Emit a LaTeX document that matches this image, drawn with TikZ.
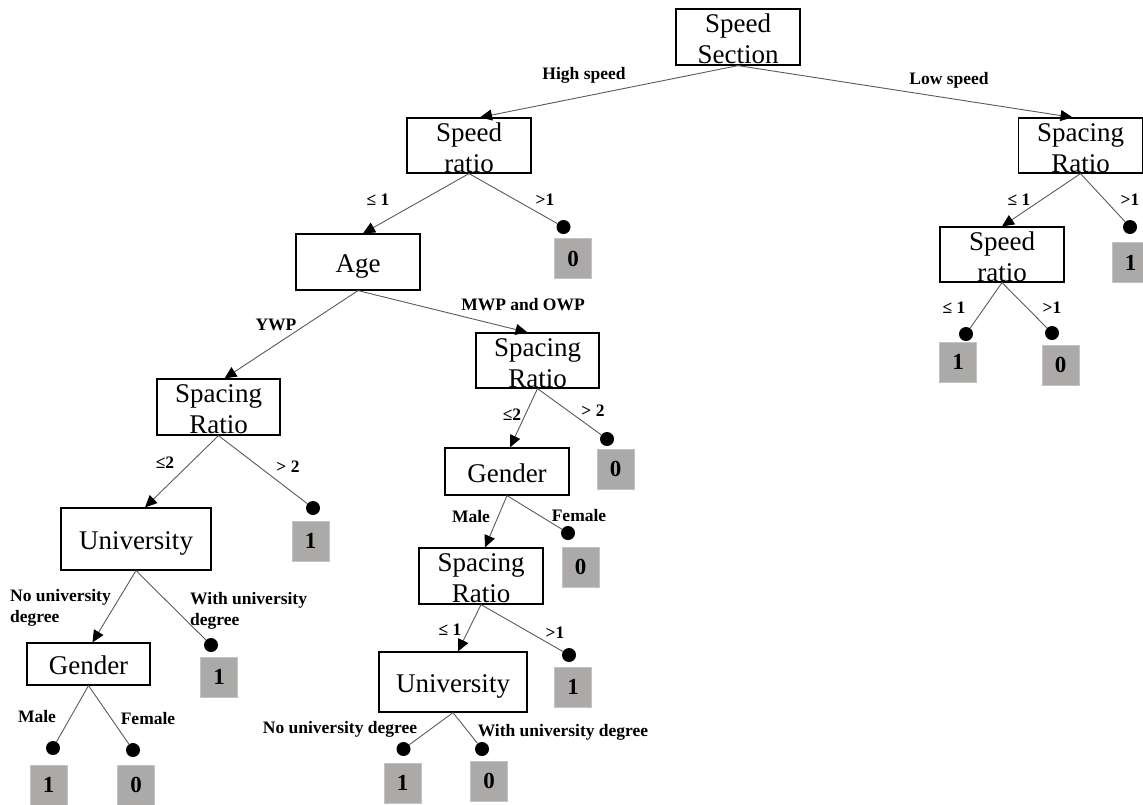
\documentclass[tikz,border=0pt]{standalone}
\usepackage{fontspec}
\setmainfont{Liberation Serif}
\usetikzlibrary{arrows.meta,calc}
\definecolor{leafgray}{RGB}{172,169,169}
\definecolor{leafborder}{RGB}{195,195,195}
\definecolor{linegray}{RGB}{90,90,90}
\begin{document}
\begin{tikzpicture}[x=1pt,y=-1pt,
  box/.style={draw=black,line width=1.2pt,inner sep=0pt,minimum width=124pt,minimum height=56pt,align=center,font=\fontsize{27}{31}\selectfont},
  one/.style={text height=21pt,text depth=0pt},
  two/.style={text height=53pt,text depth=0pt},
  leaf/.style={draw=leafborder,fill=leafgray,line width=0.8pt,minimum width=37pt,minimum height=40pt,inner sep=0pt,font=\fontsize{23}{25}\selectfont\bfseries},
  dot/.style={circle,fill=black,minimum size=14pt,inner sep=0pt},
  edge/.style={draw=linegray,line width=0.9pt},
  arr/.style={edge,-{Triangle[length=12pt,width=11pt,color=black]}},
  lab/.style={font=\fontsize{17.5}{21}\selectfont\bfseries,inner sep=0pt},
]
\clip (0,0) rectangle (1143,804);
\fill[white] (0,0) rectangle (1143,804);
% decision boxes
\node[box,two] (ss) at (738,37) {Speed\\Section};
\node[box,two,minimum height=55pt] (sr1) at (469,145.5) {Speed\\ratio};
\node[box,two,minimum height=55pt] (spR) at (1080.5,145.5) {Spacing\\Ratio};
\node[box,two,minimum height=55pt] (sr2) at (1002,254.5) {Speed\\ratio};
\node[box,one] (age) at (358,262) {Age};
\node[box,two,minimum width=123pt] (spA) at (218.5,407) {Spacing\\Ratio};
\node[box,two,minimum width=123pt,minimum height=55pt] (spB) at (537.5,360.5) {Spacing\\Ratio};
\node[box,one,minimum height=47pt] (genB) at (507,471.5) {Gender};
\node[box,one,minimum width=150pt,minimum height=62pt] (uniA) at (136,539) {University};
\node[box,one,minimum width=123pt,minimum height=42pt] (genA) at (88.5,664) {Gender};
\node[box,two] (spC) at (481,576) {Spacing\\Ratio};
\node[box,one,minimum width=148pt,minimum height=60pt] (uniB) at (453,682) {University};
% leaves
\node[leaf] (l1) at (573,258.5) {0};
\node[leaf] (l2) at (1130.5,262.5) {1};
\node[leaf] (l3) at (958,362) {1};
\node[leaf] (l4) at (1060.5,365) {0};
\node[leaf] (l5) at (310.5,541) {1};
\node[leaf] (l6) at (615.5,469) {0};
\node[leaf] (l7) at (219,677) {1};
\node[leaf] (l8) at (48.5,785) {1};
\node[leaf] (l9) at (136,785) {0};
\node[leaf] (l10) at (580.5,567) {0};
\node[leaf] (l11) at (573,687) {1};
\node[leaf] (l12) at (402.5,783) {1};
\node[leaf] (l13) at (489,781) {0};
% dots
\node[dot] (d1) at (563.5,227) {};
\node[dot] (d2) at (1130,227) {};
\node[dot] (d3) at (966,334) {};
\node[dot] (d4) at (1052,333) {};
\node[dot] (d5) at (313,508) {};
\node[dot] (d6) at (607,439) {};
\node[dot] (d7) at (211,645) {};
\node[dot] (d8) at (53,748) {};
\node[dot] (d9) at (133,750) {};
\node[dot] (d10) at (568,533) {};
\node[dot] (d11) at (569,655) {};
\node[dot] (d12) at (403.5,749) {};
\node[dot] (d13) at (482,749) {};
% connectors
\draw[arr] (ss.south) -- ($(sr1.north)+(11,0)$);
\draw[arr] (ss.south) -- ($(spR.north)+(-8,0)$);
\draw[arr] (sr1.south) -- ($(age.north)+(5,0)$);
\draw[edge] (sr1.south) -- (d1);
\draw[arr] (spR.south) -- (sr2.north);
\draw[edge] (spR.south) -- (d2);
\draw[edge] (sr2.south) -- (d3);
\draw[edge] (sr2.south) -- (d4);
\draw[arr] (age.south) -- ($(spA.north)+(6,0)$);
\draw[arr] (age.south) -- ($(spB.north)+(-10,0)$);
\draw[arr] (spA.south) -- ($(uniA.north)+(9,0)$);
\draw[edge] (spA.south) -- (d5);
\draw[arr] (spB.south) -- ($(genB.north)+(3,0)$);
\draw[edge] (spB.south) -- (d6);
\draw[arr] (uniA.south) -- ($(genA.north)+(4,0)$);
\draw[edge] (uniA.south) -- (d7);
\draw[edge] (genA.south) -- (d8);
\draw[edge] (genA.south) -- (d9);
\draw[arr] (genB.south) -- ($(spC.north)+(4,0)$);
\draw[edge] (genB.south) -- (d10);
\draw[arr] (spC.south) -- ($(uniB.north)+(5,0)$);
\draw[edge] (spC.south) -- (d11);
\draw[edge] (uniB.south) -- (d12);
\draw[edge] (uniB.south) -- (d13);
% labels
\node[lab] (tHigh) at (584,75) {High speed};
\node[lab] (tLow) at (949,80) {Low speed};
\node[lab] (t1) at (378,200) {≤ 1};
\node[lab] (t2) at (545,200) {>1};
\node[lab] (t3) at (1019,200) {≤ 1};
\node[lab] (t4) at (1130,200) {>1};
\node[lab] (t5) at (954,308) {≤ 1};
\node[lab] (t6) at (1052,308) {>1};
\node[lab] (t7) at (276,325) {YWP};
\node[lab] (t8) at (523,305) {MWP and OWP};
\node[lab] (t9) at (165,463) {≤2};
\node[lab] (t10) at (288,467) {> 2};
\node[lab] (t11) at (512,415) {≤2};
\node[lab] (t12) at (593,411) {> 2};
\node[lab,align=left,anchor=west] (t13) at (10,607.5) {No university\\degree};
\node[lab,align=left,anchor=west] (t14) at (190,610.5) {With university\\degree};
\node[lab] (t15) at (37,717) {Male};
\node[lab] (t16) at (148,719) {Female};
\node[lab] (t17) at (471,517) {Male};
\node[lab] (t18) at (579,516) {Female};
\node[lab] (t19) at (450,630) {≤ 1};
\node[lab] (t20) at (555,633) {>1};
\node[lab] (t21) at (340,729) {No university degree};
\node[lab] (t22) at (563,732) {With university degree};
\end{tikzpicture}
\end{document}
